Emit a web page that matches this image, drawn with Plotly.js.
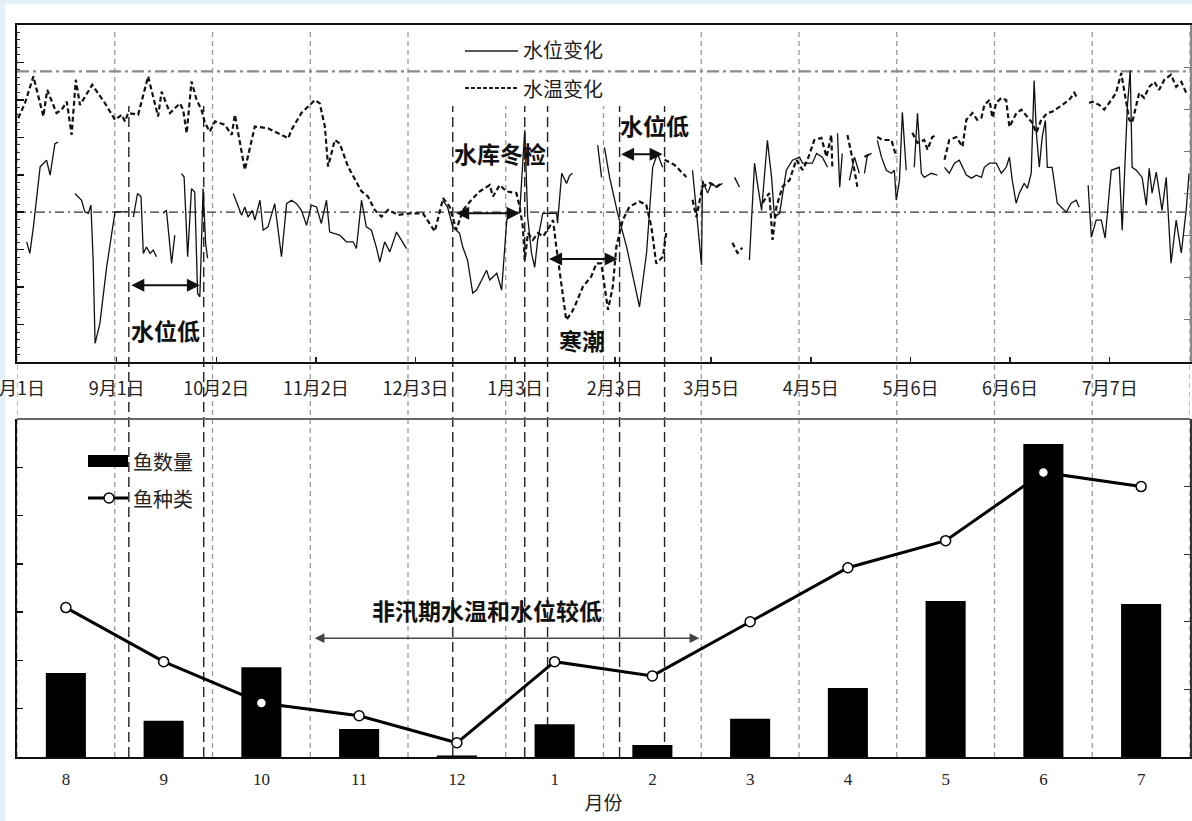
<!DOCTYPE html>
<html><head><meta charset="utf-8">
<script src="https://cdn.plot.ly/plotly-3.0.1.min.js"></script>
<style>html,body{margin:0;padding:0;background:#fff;}#chart{width:1192px;height:821px;}</style>
</head><body><div id="chart"></div>
<script>
// ---------- top panel: daily series (day 0 = 8月1日) ----------
const topTickDays = [0,31,62,93,124,155,186,216,247,278,309,340];
const topTickText = ['8月1日','9月1日','10月2日','11月2日','12月3日','1月3日','2月3日','3月5日','4月5日','5月6日','6月6日','7月7日'];

const levelDay = [3.0,4.0,5.1,6.1,7.2,8.2,9.2,10.3,11.8,12.8,null,
18.0,20.1,21.1,22.2,23.0,23.7,24.3,25.8,27.9,30.5,34.6,null,
36.2,37.5,38.6,39.3,40.3,41.4,42.4,43.4,null,
45.5,46.5,48.1,49.1,null,
51.2,52.0,53.1,54.3,55.3,56.2,56.9,57.9,58.7,59.3,null,
67.3,68.8,69.9,70.9,71.9,73.2,74.0,75.6,76.6,78.1,80.2,82.3,83.9,85.4,87.0,88.5,90.1,91.6,93.2,94.7,96.3,97.3,100.4,102.5,104.6,105.6,107.2,108.7,110.3,111.8,112.9,114.4,116.0,118.1,119.6,121.2,null,
132.5,134.0,135.6,137.7,138.7,140.2,141.8,143.0,144.6,146.1,147.1,149.3,150.8,152.4,153.3,null,
156.4,158.0,158.9,160.1,161.1,162.0,163.6,167.9,168.2,169.5,171.0,172.0,172.9,null,
180.7,181.9,null,
182.8,184.4,186.9,189.7,193.7,195.9,197.8,199.3,200.9,null,
210.2,211.4,213.0,213.3,214.9,216.1,217.7,219.5,null,
223.3,224.8,null,
227.9,229.5,230.4,231.7,233.5,234.8,235.7,237.3,239.4,241.3,243.5,244.4,247.5,248.8,250.6,252.2,null,
255.3,256.0,256.8,null,
259.0,260.6,262.1,null,
263.7,264.6,265.9,null,
267.7,269.0,270.5,272.1,273.0,273.6,274.6,275.5,276.7,null,
279.2,280.2,281.4,282.3,284.5,286.4,null,
288.6,290.1,291.7,293.2,295.4,297.0,298.5,300.1,301.0,302.6,304.7,306.3,307.8,308.8,309.7,310.9,311.9,313.4,314.4,315.6,316.5,317.2,318.1,319.0,320.0,320.6,322.1,323.7,326.5,328.0,329.6,330.5,null,
333.3,334.3,335.8,337.4,338.6,340.5,343.0,343.9,345.5,346.4,347.0,348.3,350.1,351.4,352.3,353.2,354.5,355.4,356.3,357.6,359.1,360.7,362.3,363.8,364.7];

const levelVal = [3.21,2.90,3.61,4.32,5.21,5.30,5.39,4.99,5.83,5.87,null,
4.50,4.32,4.01,3.97,4.19,2.72,0.50,1.03,2.54,4.01,4.01,null,
3.87,4.50,4.41,2.90,3.07,2.90,2.99,2.81,null,
3.97,4.05,2.63,3.39,null,
5.03,4.94,2.81,4.63,4.54,1.83,1.74,4.63,3.17,2.77,null,
4.50,4.14,3.92,4.14,3.87,4.05,3.79,4.32,3.52,3.61,4.23,2.81,4.23,4.32,4.23,4.05,3.65,4.19,4.14,3.70,4.32,3.47,3.39,3.21,3.21,3.03,4.32,3.61,3.52,3.07,2.67,3.21,2.94,3.47,3.25,3.03,null,
4.32,4.13,3.60,3.44,3.07,2.72,1.84,1.92,2.19,2.45,2.19,2.37,1.92,3.79,3.97,null,
3.97,6.19,3.87,2.91,2.53,3.25,3.97,3.97,3.71,5.04,4.77,4.99,5.04,null,
5.79,4.93,null,
5.73,4.93,3.97,3.07,1.47,2.91,5.20,5.57,5.20,null,
5.12,4.05,2.59,4.85,4.51,4.77,4.67,4.77,null,
4.93,4.67,null,
2.72,5.31,4.77,4.05,5.92,4.93,3.87,3.97,5.12,5.39,5.47,5.31,5.31,5.57,5.47,5.20,null,
6.11,4.67,5.57,null,
4.85,5.47,5.04,null,
5.04,5.52,5.57,null,
5.92,5.47,5.12,5.04,5.12,4.32,4.85,6.67,5.12,null,
5.20,6.64,5.04,4.93,5.04,4.99,null,
5.20,5.04,5.31,5.39,4.99,4.91,4.99,4.93,5.20,5.31,5.31,5.04,5.20,5.47,4.85,4.24,4.51,4.77,4.64,5.04,7.52,6.11,5.20,6.00,6.45,5.20,5.20,4.24,4.00,4.24,4.32,4.13,null,
4.72,3.33,3.79,3.79,3.31,5.12,5.20,3.52,6.80,7.79,5.20,5.12,4.93,4.19,5.17,4.51,5.07,4.59,4.05,4.93,2.64,3.79,2.91,4.05,5.04];

const tempDay = [0.4,2.5,5.1,8.2,9.4,12.3,13.9,15.5,17.0,18.3,19.6,23.4,27.4,30.5,32.6,33.6,34.6,37.7,40.8,42.9,43.9,45.0,47.6,50.7,51.7,52.8,54.3,55.9,57.4,58.5,60.0,61.6,64.7,66.8,67.8,70.9,74.0,78.1,84.4,85.4,88.5,92.7,94.2,95.8,96.8,98.9,100.4,103.0,107.2,109.2,111.3,113.4,115.5,118.6,122.2,126.3,130.0,132.6,134.6,136.7,138.8,141.4,144.0,147.1,148.1,150.2,152.3,155.4,156.4,157.4,158.0,159.0,160.5,162.1,163.7,165.7,166.8,167.8,169.9,170.9,172.5,173.5,176.1,178.7,180.3,181.8,183.9,185.4,186.5,188.5,190.6,193.7,195.8,197.4,198.9,201.0,202.0,null,
201.5,204.6,208.3,null,
210.2,211.4,213.3,215.5,217.7,219.2,null,
222.6,224.2,225.7,null,
232.0,234.1,235.1,236.3,238.2,240.4,242.5,244.4,246.0,248.1,250.3,251.9,253.4,253.7,null,
258.4,259.6,261.5,null,
263.7,265.9,null,
267.7,269.3,272.1,273.6,null,
278.6,280.2,282.3,283.3,284.8,286.1,null,
288.6,290.1,292.3,294.2,295.4,297.3,298.8,300.1,301.0,302.6,303.5,304.7,306.3,307.8,308.8,311.0,312.5,315.0,315.9,317.2,318.7,320.6,322.1,325.2,327.4,329.0,329.9,null,
333.6,334.6,336.8,338.3,340.5,342.0,343.6,344.5,346.1,347.0,348.3,349.2,350.7,352.3,353.9,355.4,357.0,359.1,360.7,362.3,364.1];

const tempVal = [5.79,6.15,6.78,5.83,6.46,5.91,5.99,6.18,5.39,6.70,6.10,6.58,6.14,5.75,5.87,5.71,5.91,5.87,6.78,6.14,5.83,6.42,5.91,6.14,5.99,5.43,6.66,6.22,5.99,5.67,5.47,5.71,5.63,5.39,5.87,4.56,5.59,5.55,5.31,5.51,5.91,6.22,6.14,5.59,4.64,5.27,5.19,4.64,4.05,3.93,3.61,3.45,3.61,3.49,3.53,3.53,3.10,3.89,3.69,3.14,3.61,3.85,4.05,4.20,3.93,4.20,4.05,4.01,3.69,3.21,2.42,3.06,2.90,3.06,2.98,3.21,3.37,2.74,1.63,1.00,1.16,1.31,1.79,2.03,2.34,2.34,1.24,1.79,2.74,3.37,3.69,3.81,3.73,3.21,2.34,2.50,3.06,null,
4.80,4.68,4.39,null,
3.85,3.44,4.16,4.25,4.16,4.25,null,
2.83,2.59,2.71,null,
3.78,4.01,2.90,3.68,4.16,4.32,4.80,4.56,4.80,5.27,5.32,4.87,5.39,4.63,null,
5.39,4.96,4.16,null,
4.87,4.96,null,
5.34,5.27,5.27,4.87,null,
5.44,5.20,5.27,5.04,5.34,5.39,null,
4.80,5.27,5.34,5.11,5.75,5.91,5.75,5.80,6.10,6.22,5.80,6.15,6.27,6.22,5.58,5.91,5.99,5.75,5.68,5.44,5.75,5.91,5.94,6.10,6.22,6.39,6.27,null,
6.15,6.18,6.10,5.99,6.22,6.39,6.86,6.46,5.75,5.68,6.15,6.39,6.27,6.53,6.65,6.46,6.70,6.82,6.53,6.65,6.34];

// period boundaries (days) marked by long black dashes
const periodLines = [34.8, 58.1, 135.6, 158.0, 165.1, 187.5, 201.5];
const levelRef = 4.0;   // dash-dot reference of water level
const tempRef = 6.9;    // dash-dot reference of water temperature

// ---------- bottom panel: monthly ----------
const months = ['8','9','10','11','12','1','2','3','4','5','6','7'];
const fishCount = [1.74,0.75,1.86,0.58,0.03,0.68,0.25,0.79,1.43,3.23,6.48,3.17];
const fishSpecies = [2.21,1.41,0.80,0.61,0.21,1.41,1.20,2.00,2.80,3.20,4.21,4.00];

// ---------- geometry helpers (layout only) ----------
const W=1192,H=821,ML=17,MR=2,MT=25,MB=64;
const PW=W-ML-MR, PH=H-MT-MB;
const px = x => (x-ML)/PW;
const py = y => (H-MB-y)/PH;
const CJK = '"Noto Sans CJK SC", "Noto Sans", sans-serif';
const SERIF = '"Liberation Serif", "DejaVu Serif", serif';

const traces = [
  {x: levelDay, y: levelVal, xaxis:'x', yaxis:'y', mode:'lines', connectgaps:false,
   line:{color:'#111', width:1.3}, showlegend:false, hoverinfo:'skip'},
  {x: tempDay, y: tempVal, xaxis:'x', yaxis:'y3', mode:'lines', connectgaps:false,
   line:{color:'#111', width:2.2, dash:'5px,3px'}, showlegend:false, hoverinfo:'skip'},
  {x: months, y: fishCount, xaxis:'x2', yaxis:'y2', type:'bar', width:0.41,
   marker:{color:'#000'}, showlegend:false},
  {x: months, y: fishSpecies, xaxis:'x2', yaxis:'y4', mode:'lines+markers',
   line:{color:'#000', width:3}, marker:{symbol:'circle', size:10, color:'#fff', line:{color:'#000', width:1.5}},
   showlegend:false}
];

const shapes = [];
// light-blue frame (top and left band)
shapes.push({type:'rect', xref:'paper', yref:'paper', x0:px(0), x1:px(5), y0:py(H), y1:py(0), fillcolor:'#e2f2f8', line:{width:0}, layer:'below'});
shapes.push({type:'rect', xref:'paper', yref:'paper', x0:px(0), x1:px(W), y0:py(4), y1:py(0), fillcolor:'#e2f2f8', line:{width:0}, layer:'below'});
// month boundaries: gray dashes through both panels
for (let k=-1; k<months.length; k++) {
  shapes.push({type:'line', xref:'x2', yref:'paper', x0:k+0.5, x1:k+0.5, y0:0, y1:py(28),
    line:{color:'#9a9a9a', width:1.3, dash:'5px,4px'}, layer:'below'});
}
// period lines: long black dashes
periodLines.forEach(d => shapes.push({type:'line', xref:'x', yref:'paper', x0:d, x1:d, y0:0, y1:py(106),
    line:{color:'#222', width:1.4, dash:'10px,5px'}, layer:'below'}));
// legend background box (top)
shapes.push({type:'rect', xref:'paper', yref:'paper', x0:px(455), x1:px(612), y0:py(106), y1:py(27), fillcolor:'#fff', line:{width:0}, layer:'below'});
// reference lines
shapes.push({type:'line', xref:'paper', yref:'y', x0:0, x1:1, y0:levelRef, y1:levelRef,
  line:{color:'#333', width:1.2, dash:'9px,4px,2px,4px'}, layer:'below'});
shapes.push({type:'line', xref:'paper', yref:'y3', x0:0, x1:1, y0:tempRef, y1:tempRef,
  line:{color:'#8a8a8a', width:2.2, dash:'12px,4px,3px,4px'}, layer:'below'});
// bottom panel top border
shapes.push({type:'line', xref:'paper', yref:'paper', x0:0, x1:1, y0:py(419), y1:py(419), line:{color:'#666', width:2}});
// top legend marks
shapes.push({type:'line', xref:'paper', yref:'paper', x0:px(465), x1:px(518), y0:py(51), y1:py(51), line:{color:'#222', width:1.3}});
shapes.push({type:'line', xref:'paper', yref:'paper', x0:px(465), x1:px(518), y0:py(88), y1:py(88), line:{color:'#222', width:2, dash:'4px,2px'}});
// bottom legend marks
shapes.push({type:'rect', xref:'paper', yref:'paper', x0:px(88), x1:px(128), y0:py(467), y1:py(455), fillcolor:'#000', line:{width:0}});
shapes.push({type:'line', xref:'paper', yref:'paper', x0:px(88), x1:px(128), y0:py(498), y1:py(498), line:{color:'#000', width:3}});
shapes.push({type:'circle', xref:'paper', yref:'paper', x0:px(104), x1:px(114), y0:py(503), y1:py(493), fillcolor:'#fff', line:{color:'#000', width:1.5}});

const boldFont = {family:CJK, size:23, color:'#111', weight:'bold'};
const legFont = {family:CJK, size:20, color:'#222'};
const annotations = [
  {text:'水位变化', xref:'paper', yref:'paper', x:px(521), y:py(50), xanchor:'left', yanchor:'middle', showarrow:false, font:legFont},
  {text:'水温变化', xref:'paper', yref:'paper', x:px(521), y:py(88), xanchor:'left', yanchor:'middle', showarrow:false, font:legFont},
  {text:'鱼数量', xref:'paper', yref:'paper', x:px(131), y:py(461), xanchor:'left', yanchor:'middle', showarrow:false, font:legFont},
  {text:'鱼种类', xref:'paper', yref:'paper', x:px(131), y:py(498), xanchor:'left', yanchor:'middle', showarrow:false, font:legFont},
  {text:'水位低', xref:'x', yref:'y', x:46.3, y:0.85, showarrow:false, font:boldFont},
  {text:'水库冬检', xref:'x', yref:'y', x:150.2, y:5.57, showarrow:false, font:boldFont},
  {text:'寒潮', xref:'x', yref:'y', x:175.7, y:0.59, showarrow:false, font:boldFont},
  {text:'水位低', xref:'x', yref:'y', x:198.4, y:6.32, showarrow:false, font:boldFont},
  {text:'非汛期水温和水位较低', xref:'x2', yref:'y2', x:4.31, y:3.04, showarrow:false, font:boldFont}
];
function dblArrow(xr, yr, x0, x1, y, color, w) {
  return {text:'', xref:xr, yref:yr, axref:xr, ayref:yr, x:x1, y:y, ax:x0, ay:y,
    showarrow:true, arrowside:'end+start', arrowhead:2, startarrowhead:2,
    arrowsize:1.3, startarrowsize:1.3, arrowwidth:w, arrowcolor:color, standoff:0, startstandoff:0};
}
annotations.push(dblArrow('x','y',35.1,56.9,2.05,'#111',2));
annotations.push(dblArrow('x','y',136.2,156.4,3.97,'#111',2));
annotations.push(dblArrow('x','y',165.1,186.9,2.75,'#111',2));
annotations.push(dblArrow('x','y',187.5,200.9,5.55,'#111',2));
annotations.push(dblArrow('x2','y2',2.53,6.48,2.46,'#444',1.5));

const layout = {
  width:W, height:H,
  margin:{l:ML, r:MR, t:MT, b:MB, pad:0},
  paper_bgcolor:'#fff', plot_bgcolor:'rgba(0,0,0,0)',
  showlegend:false,
  xaxis:{domain:[0,1], anchor:'y', range:[0,365], tickmode:'array', tickvals:topTickDays, ticktext:topTickText,
    ticks:'inside', ticklen:5, tickwidth:1.5, tickcolor:'#222', showline:true, linecolor:'#111', linewidth:2, mirror:true,
    showgrid:false, zeroline:false, automargin:false, ticklabelstandoff:9, ticklabeloverflow:'allow',
    tickfont:{family:CJK, size:18, color:'#222'}},
  yaxis:{domain:[py(362),1], anchor:'x', range:[0,9], tick0:0, dtick:1, ticks:'inside', ticklen:7, tickwidth:1.5, tickcolor:'#111',
    showticklabels:false, showline:true, linecolor:'#111', linewidth:2, showgrid:false, zeroline:false, automargin:false,
    minor:{ticks:'inside', ticklen:3, dtick:0.2, tickcolor:'#333', tickwidth:1}},
  yaxis3:{overlaying:'y', side:'right', anchor:'x', range:[0,8], tick0:0, dtick:1, ticks:'inside', ticklen:6, tickcolor:'#777',
    showticklabels:false, showline:true, linecolor:'#888', linewidth:1.5, showgrid:false, zeroline:false, automargin:false},
  xaxis2:{domain:[0,1], anchor:'y2', type:'category', range:[-0.5,11.5], ticks:'', showline:true, linecolor:'#111', linewidth:2,
    showgrid:false, zeroline:false, automargin:false, ticklabelstandoff:6,
    tickfont:{family:SERIF, size:17, color:'#222'},
    title:{text:'月份', font:{family:CJK, size:19, color:'#222'}, standoff:8}},
  yaxis2:{domain:[0,py(419)], anchor:'x2', range:[0,7], tick0:0, dtick:1, ticks:'inside', ticklen:6, tickwidth:1.5, tickcolor:'#111',
    showticklabels:false, showline:true, linecolor:'#111', linewidth:2, showgrid:false, zeroline:false, automargin:false},
  yaxis4:{overlaying:'y2', side:'right', anchor:'x2', range:[0,5], tick0:0, dtick:1, ticks:'inside', ticklen:6, tickcolor:'#333',
    showticklabels:false, showline:true, linecolor:'#333', linewidth:1.5, showgrid:false, zeroline:false, automargin:false},
  shapes:shapes,
  annotations:annotations
};
Plotly.newPlot('chart', traces, layout, {staticPlot:true, displayModeBar:false});
</script></body></html>
